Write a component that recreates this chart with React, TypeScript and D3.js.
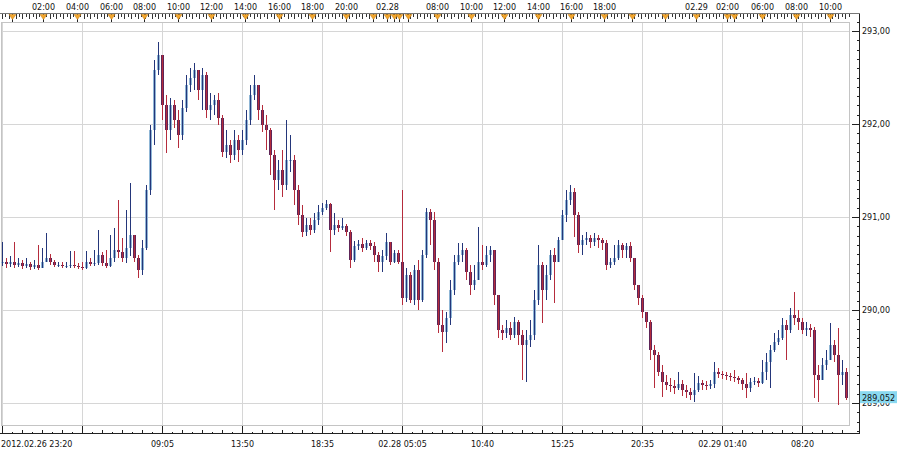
import * as d3 from "d3";

// M5 candles, open = previous close
const closes = [
  290.52, 290.49, 290.52, 290.48, 290.51, 290.47, 290.49, 290.46, 290.48, 290.45,
  290.52, 290.56, 290.52, 290.48, 290.48, 290.47, 290.47, 290.48, 290.47, 290.46,
  290.45, 290.52, 290.49, 290.51, 290.59, 290.51, 290.47, 290.56, 290.65, 290.62,
  290.56, 290.67, 290.81, 290.56, 290.43, 290.67, 291.29, 291.94, 292.58, 292.74,
  292.20, 291.94, 292.20, 292.04, 291.88, 292.17, 292.42, 292.49, 292.58, 292.37,
  292.53, 292.15, 292.20, 292.26, 292.06, 291.70, 291.77, 291.67, 291.83, 291.72,
  291.83, 292.04, 292.31, 292.42, 292.15, 291.99, 291.94, 291.67, 291.40, 291.51,
  291.34, 291.61, 291.61, 291.29, 291.02, 290.84, 290.91, 290.86, 290.97, 291.05,
  291.10, 291.14, 290.86, 290.91, 290.88, 290.90, 290.84, 290.54, 290.69, 290.71,
  290.67, 290.72, 290.69, 290.59, 290.52, 290.58, 290.73, 290.52, 290.61, 290.52,
  290.13, 290.38, 290.11, 290.43, 290.11, 290.59, 291.05, 290.97, 290.52, 289.84,
  289.76, 289.91, 290.22, 290.52, 290.59, 290.65, 290.41, 290.27, 290.32, 290.52,
  290.48, 290.59, 290.65, 290.16, 289.78, 289.75, 289.81, 289.73, 289.87, 289.73,
  289.62, 289.68, 289.73, 290.11, 290.48, 290.22, 290.38, 290.59, 290.52, 290.75,
  291.02, 291.18, 291.27, 291.02, 290.70, 290.75, 290.77, 290.73, 290.77, 290.75,
  290.72, 290.48, 290.52, 290.56, 290.70, 290.65, 290.69, 290.56, 290.27, 290.13,
  289.98, 289.87, 289.57, 289.52, 289.33, 289.23, 289.19, 289.18, 289.16, 289.20,
  289.14, 289.12, 289.09, 289.14, 289.22, 289.19, 289.18, 289.20, 289.33, 289.31,
  289.30, 289.29, 289.28, 289.27, 289.25, 289.20, 289.16, 289.23, 289.24, 289.22,
  289.33, 289.44, 289.57, 289.66, 289.70, 289.84, 289.78, 289.95, 289.91, 289.87,
  289.78, 289.81, 289.78, 289.30, 289.25, 289.41, 289.46, 289.62, 289.52, 289.30,
  289.33, 289.052,
];

const highs = [
  290.73, 290.56, 290.58, 290.73, 290.56, 290.54, 290.56, 290.52, 290.54, 290.70,
  290.67, 290.83, 290.60, 290.54, 290.52, 290.52, 290.52, 290.63, 290.63, 290.51,
  290.52, 290.63, 290.56, 290.65, 290.86, 290.62, 290.65, 290.81, 290.88, 291.18,
  290.77, 291.08, 291.37, 290.75, 290.59, 290.75, 291.34, 291.99, 292.69, 292.88,
  292.58, 292.31, 292.28, 292.26, 292.15, 292.26, 292.53, 292.60, 292.66, 292.58,
  292.60, 292.56, 292.33, 292.31, 292.33, 292.10, 291.94, 291.83, 291.94, 291.88,
  291.94, 292.15, 292.42, 292.53, 292.42, 292.20, 292.10, 291.96, 291.72, 291.61,
  291.72, 292.04, 291.88, 291.67, 291.34, 291.13, 290.99, 290.99, 291.04, 291.13,
  291.15, 291.18, 291.15, 291.04, 290.97, 290.99, 290.92, 290.86, 290.74, 290.75,
  290.77, 290.75, 290.75, 290.73, 290.62, 290.65, 290.83, 290.73, 290.65, 290.65,
  291.29, 290.45, 290.41, 290.48, 290.54, 290.65, 291.10, 291.09, 291.05, 290.56,
  290.00, 289.98, 290.32, 290.59, 290.72, 290.72, 290.67, 290.48, 290.48, 290.89,
  290.70, 290.69, 290.69, 290.65, 290.16, 289.84, 289.89, 289.87, 289.92, 289.89,
  289.78, 289.78, 289.89, 290.22, 290.70, 290.52, 290.48, 290.65, 290.67, 290.78,
  291.08, 291.29, 291.34, 291.31, 291.05, 290.81, 290.84, 290.81, 290.83, 290.81,
  290.77, 290.75, 290.56, 290.70, 290.75, 290.72, 290.72, 290.73, 290.56, 290.27,
  290.16, 289.98, 289.89, 289.62, 289.55, 289.41, 289.30, 289.27, 289.25, 289.33,
  289.25, 289.19, 289.16, 289.32, 289.29, 289.25, 289.24, 289.25, 289.44, 289.38,
  289.34, 289.33, 289.32, 289.35, 289.29, 289.27, 289.32, 289.27, 289.28, 289.27,
  289.46, 289.54, 289.62, 289.75, 289.78, 289.91, 289.89, 290.02, 290.19, 290.00,
  289.91, 289.87, 289.85, 289.82, 289.41, 289.48, 289.57, 289.86, 289.68, 289.81,
  289.46, 289.38,
];

const lows = [
  290.47, 290.45, 290.46, 290.45, 290.46, 290.44, 290.45, 290.43, 290.44, 290.43,
  290.45, 290.52, 290.48, 290.46, 290.46, 290.45, 290.45, 290.45, 290.45, 290.44,
  290.43, 290.44, 290.47, 290.47, 290.48, 290.47, 290.45, 290.46, 290.52, 290.56,
  290.52, 290.51, 290.58, 290.52, 290.34, 290.38, 290.65, 291.24, 291.77, 292.53,
  292.04, 291.69, 291.83, 291.96, 291.74, 291.83, 292.13, 292.34, 292.37, 292.26,
  292.15, 292.06, 292.04, 292.10, 291.99, 291.65, 291.63, 291.58, 291.61, 291.59,
  291.67, 291.77, 291.99, 292.26, 292.04, 291.91, 291.72, 291.45, 291.08, 291.29,
  291.22, 291.29, 291.48, 291.13, 290.91, 290.78, 290.80, 290.81, 290.83, 290.91,
  291.02, 291.08, 290.62, 290.81, 290.84, 290.86, 290.80, 290.45, 290.52, 290.65,
  290.62, 290.65, 290.65, 290.52, 290.41, 290.41, 290.54, 290.48, 290.51, 290.49,
  290.05, 290.09, 290.08, 290.05, 290.00, 290.09, 290.56, 290.70, 290.43, 289.75,
  289.55, 289.65, 289.84, 290.16, 290.48, 290.52, 290.32, 290.16, 290.22, 290.38,
  290.43, 290.46, 290.52, 290.05, 289.70, 289.68, 289.70, 289.68, 289.70, 289.62,
  289.25, 289.23, 289.60, 289.68, 290.05, 289.86, 290.11, 290.32, 290.08, 290.52,
  290.75, 290.95, 291.13, 290.78, 290.61, 290.59, 290.70, 290.67, 290.69, 290.67,
  290.65, 290.43, 290.45, 290.48, 290.54, 290.56, 290.56, 290.52, 290.22, 290.05,
  289.91, 289.81, 289.46, 289.16, 289.29, 289.06, 289.14, 289.12, 289.10, 289.14,
  289.08, 289.05, 289.03, 289.01, 289.12, 289.14, 289.14, 289.15, 289.16, 289.27,
  289.26, 289.25, 289.24, 289.23, 289.20, 289.14, 289.05, 289.12, 289.19, 289.17,
  289.20, 289.25, 289.16, 289.55, 289.62, 289.68, 289.46, 289.75, 289.84, 289.78,
  289.74, 289.72, 289.71, 289.05, 289.01, 289.27, 289.35, 289.55, 289.44, 288.98,
  289.19, 289.03,
];

// axis labels, positions are candle indices
const gridIdx = [0, 20, 40, 60, 80, 100, 120, 140, 160, 180, 200];
const bottomIdx = [0, 40, 60, 80, 100, 120, 140, 160, 180, 200];
const bottomText = ["2012.02.26 23:20", "09:05", "13:50", "18:35", "02.28 05:05", "10:40", "15:25", "20:35", "02.29 01:40", "08:20"];
const topIdx = [2.5, 10.25, 18.75, 27.25, 35.5, 44, 52.25, 60.75, 69.25, 77.5, 86, 92.75, 96.25, 98, 99.25, 101.5, 108.75,
  117.25, 125.5, 134, 142.25, 150.5, 157.5, 165.75, 173.5, 181.25, 183, 190, 198.5, 207];
const topText = ["", "02:00", "04:00", "06:00", "08:00", "10:00", "12:00", "14:00", "16:00", "18:00", "20:00", "", "02.28", "", "", "", "08:00",
  "10:00", "12:00", "14:00", "16:00", "18:00", "", "", "02.29", "02:00", "", "06:00", "08:00", "10:00"];
const priceTicks = [289, 290, 291, 292, 293];

const W = 900, H = 452;
const plotR = 849.5, plotT = 22.5, plotB = 425.5;
const axisX = 859.5, rulerTop = 13.5, rulerBot = 433.5;
const font = "'DejaVu Sans', Verdana, sans-serif";

const upEdge = "#24367a", upFill = "#8fb6d6";
const dnEdge = "#b52c3c", dnFill = "#5e2558";

export default function App() {
  const n = closes.length;
  const x = d3.scaleLinear().domain([0, n - 1]).range([2, 846]);
  const y = d3.scaleLinear().domain([289, 293]).range([403, 31]);
  const fmt = (v: number, d: number) => v.toFixed(d).replace(".", ",");
  const px = (i: number) => Math.round(x(i)) + 0.5;

  const candles = closes.map((c, i) => {
    const o = i === 0 ? c : closes[i - 1];
    const up = c >= o;
    const top = y(Math.max(o, c, highs[i]));
    const bot = y(Math.min(o, c, lows[i]));
    const b0 = y(Math.max(o, c));
    const b1 = y(Math.min(o, c));
    return { i, up, top, bot, b0, b1 };
  });

  const topTicks = d3.range(0, n, 0.85);
  const botTicks = d3.range(0, n, 2.5).filter((t) => t % 20 !== 0);
  const minorPrice = d3.range(28870, 29320, 10).map((v) => v / 100);
  const last = closes[n - 1];

  return (
    <svg width={W} height={H} style={{ position: "absolute", left: 0, top: 0, display: "block", background: "#fff" }}
      fontFamily={font} fontSize={8}>
      {/* grid */}
      <g stroke="#d6d6d6" shapeRendering="crispEdges">
        {gridIdx.map((g) => <line key={g} x1={px(g)} x2={px(g)} y1={plotT} y2={plotB} />)}
        {priceTicks.map((p) => <line key={p} x1={2} x2={plotR} y1={Math.round(y(p)) + 0.5} y2={Math.round(y(p)) + 0.5} />)}
      </g>
      <rect x={1.5} y={plotT} width={plotR - 1.5} height={plotB - plotT} fill="none" stroke="#c4c4c4" shapeRendering="crispEdges" />

      {/* candles */}
      <g shapeRendering="crispEdges">
        {candles.map((d) => (
          <g key={d.i}>
            <rect x={Math.round(x(d.i)) - 1} width={3} y={d.b0} height={Math.max(1, d.b1 - d.b0)} fill={d.up ? upFill : dnFill} />
            <line x1={px(d.i)} x2={px(d.i)} y1={d.top} y2={d.bot} stroke={d.up ? upEdge : dnEdge} strokeWidth={1} />
          </g>
        ))}
      </g>

      {/* top time ruler */}
      <g stroke="#333" shapeRendering="crispEdges">
        <line x1={0} x2={axisX} y1={rulerTop} y2={rulerTop} stroke="#777" />
        {topTicks.map((t, k) => <line key={k} x1={px(t)} x2={px(t)} y1={rulerTop} y2={rulerTop + (k % 2 ? 3 : 5)} />)}
        <line x1={axisX} x2={axisX} y1={rulerTop} y2={rulerTop + 6} />
      </g>
      {topIdx.map((t, k) => {
        const cx = px(t);
        return (
          <g key={k}>
            <line x1={cx} x2={cx} y1={rulerTop} y2={rulerTop + 8} stroke="#222" shapeRendering="crispEdges" />
            <path d={`M${cx - 3.5},${rulerTop + 1}L${cx + 3.5},${rulerTop + 1}L${cx},${rulerTop + 6}Z`} fill="#f2a52c" stroke="#c27c12" strokeWidth={0.5} />
            {topText[k] && <text x={cx} y={9.5} textAnchor="middle" fill="#111">{topText[k]}</text>}
          </g>
        );
      })}

      {/* bottom time ruler */}
      <g stroke="#222" shapeRendering="crispEdges">
        <line x1={0} x2={axisX} y1={rulerBot} y2={rulerBot} />
        {gridIdx.map((g) => <line key={g} x1={px(g)} x2={px(g)} y1={plotB} y2={rulerBot} />)}
        {botTicks.map((t, k) => <line key={k} x1={px(t)} x2={px(t)} y1={rulerBot} y2={rulerBot - (t % 5 === 0 ? 4 : 2)} />)}
      </g>
      {bottomIdx.map((b, k) => (
        <text key={b} x={k === 0 ? 1 : px(b)} y={447} textAnchor={k === 0 ? "start" : "middle"} fill="#111">{bottomText[k]}</text>
      ))}

      {/* price axis */}
      <g stroke="#222" shapeRendering="crispEdges">
        <line x1={axisX} x2={axisX} y1={rulerTop} y2={rulerBot} />
        {minorPrice.map((p) => <line key={p} x1={axisX - 3} x2={axisX} y1={Math.round(y(p)) + 0.5} y2={Math.round(y(p)) + 0.5} />)}
        {priceTicks.map((p) => <line key={p} x1={axisX - 8} x2={axisX} y1={Math.round(y(p)) + 0.5} y2={Math.round(y(p)) + 0.5} />)}
      </g>
      {priceTicks.map((p) => (
        <text key={p} x={862} y={y(p) + 3} fill="#111">{fmt(p, 2)}</text>
      ))}
      <rect x={860} y={y(last) - 7} width={37} height={12} fill="#8ad9f0" />
      <text x={862} y={y(last) + 3} fill="#111">{fmt(last, 3)}</text>
    </svg>
  );
}
